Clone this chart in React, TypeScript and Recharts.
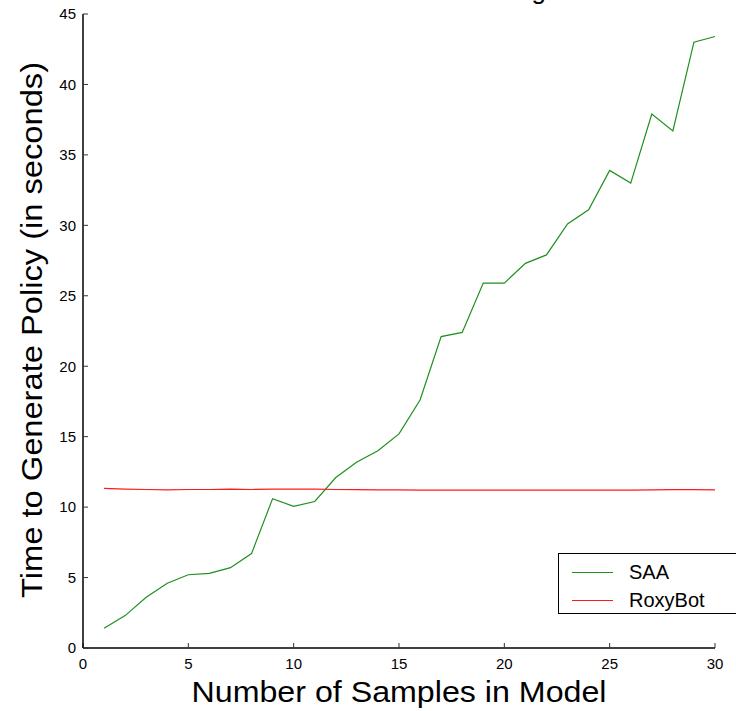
import React from "react";
import { LineChart, Line, XAxis, YAxis, Legend } from "recharts";

const samples = [
  1, 2, 3, 4, 5, 6, 7, 8, 9, 10, 11, 12, 13, 14, 15, 16, 17, 18, 19, 20, 21,
  22, 23, 24, 25, 26, 27, 28, 29, 30,
];
const saaTimes = [
  1.4, 2.3, 3.6, 4.6, 5.2, 5.3, 5.7, 6.7, 10.6, 10.05, 10.4, 12.1, 13.2, 14.0,
  15.2, 17.6, 22.1, 22.4, 25.9, 25.9, 27.3, 27.9, 30.1, 31.1, 33.9, 33.0, 37.9,
  36.7, 43.0, 43.4,
];
const roxyTimes = [
  11.33, 11.28, 11.25, 11.22, 11.25, 11.25, 11.27, 11.25, 11.28, 11.28, 11.27,
  11.25, 11.24, 11.22, 11.22, 11.21, 11.2, 11.2, 11.2, 11.2, 11.2, 11.2, 11.2,
  11.2, 11.2, 11.21, 11.22, 11.24, 11.24, 11.22,
];
const xTicks = [0, 5, 10, 15, 20, 25, 30];
const yTicks = [0, 5, 10, 15, 20, 25, 30, 35, 40, 45];

const data = samples.map((n, i) => ({ n, saa: saaTimes[i], roxy: roxyTimes[i] }));

const FONT = "'Liberation Sans', Arial, sans-serif";
const SAA_COLOR = "#1f8f1f";
const ROXY_COLOR = "#ff1a1a";

// legend drawn as plain html box, the right edge runs off the page like the original
function LegendBox() {
  const row = (color: string, name: string) => (
    <div style={{ display: "flex", alignItems: "center", height: 28 }}>
      <div style={{ width: 41, height: 1, background: color, marginLeft: 13, marginRight: 16 }} />
      <span style={{ fontSize: 20, lineHeight: "20px" }}>{name}</span>
    </div>
  );
  return (
    <div
      style={{
        border: "1px solid #000",
        background: "#fff",
        width: 220,
        height: 61,
        boxSizing: "border-box",
        paddingTop: 4,
        fontFamily: FONT,
        color: "#000",
      }}
    >
      {row(SAA_COLOR, "SAA")}
      {row(ROXY_COLOR, "RoxyBot")}
    </div>
  );
}

export default function App() {
  return (
    <div style={{ position: "absolute", left: 0, top: 0, width: 736, height: 711, overflow: "hidden", background: "#fff" }}>
      <LineChart
        width={736}
        height={711}
        data={data}
        margin={{ top: 14, right: 21, bottom: 33, left: 43 }}
        style={{ fontFamily: FONT }}
      >
        <XAxis
          dataKey="n"
          type="number"
          domain={[0, 30]}
          ticks={xTicks}
          height={30}
          tickSize={-5}
          tickMargin={15}
          axisLine={{ stroke: "#000", strokeWidth: 1.5 }}
          tickLine={{ stroke: "#333" }}
          tick={{ fill: "#000", fontSize: 15 }}
        />
        <XAxis
          xAxisId="top"
          dataKey="n"
          type="number"
          orientation="top"
          domain={[0, 30]}
          ticks={xTicks}
          height={0}
          tickSize={-5}
          tick={false}
          allowDataOverflow
          axisLine={{ stroke: "#000", strokeWidth: 1.5 }}
          tickLine={{ stroke: "#333" }}
        />
        <YAxis
          type="number"
          domain={[0, 45]}
          ticks={yTicks}
          width={40}
          tickSize={-5}
          tickMargin={12}
          allowDataOverflow
          axisLine={{ stroke: "#000", strokeWidth: 1.5 }}
          tickLine={{ stroke: "#333" }}
          tick={{ fill: "#000", fontSize: 15 }}
        />
        <YAxis
          yAxisId="right"
          type="number"
          orientation="right"
          domain={[0, 45]}
          ticks={yTicks}
          width={0}
          tickSize={-5}
          tick={false}
          allowDataOverflow
          axisLine={{ stroke: "#000", strokeWidth: 1.5 }}
          tickLine={{ stroke: "#333" }}
        />
        <Legend
          layout="vertical"
          align="center"
          verticalAlign="middle"
          wrapperStyle={{ position: "absolute", left: 558, top: 553, width: 220, height: 61 }}
          content={() => <LegendBox />}
        />
        <Line
          type="linear"
          dataKey="saa"
          name="SAA"
          stroke={SAA_COLOR}
          strokeWidth={1.2}
          dot={false}
          isAnimationActive={false}
        />
        <Line
          type="linear"
          dataKey="roxy"
          name="RoxyBot"
          stroke={ROXY_COLOR}
          strokeWidth={1.2}
          dot={false}
          isAnimationActive={false}
        />
        {/* title sits above the page top, only the g's tail shows */}
        <text x={546} y={-1} textAnchor="end" fontSize={26} fill="#000" fontFamily={FONT}>
          Effect of Model Size on Timing
        </text>
        <text
          x={399}
          y={702}
          textAnchor="middle"
          fontSize={29}
          fill="#000"
          fontFamily={FONT}
          textLength={415}
          lengthAdjust="spacingAndGlyphs"
        >
          Number of Samples in Model
        </text>
        <text
          x={0}
          y={0}
          transform="translate(42 330) rotate(-90)"
          textAnchor="middle"
          fontSize={30}
          fill="#000"
          fontFamily={FONT}
          textLength={536}
          lengthAdjust="spacingAndGlyphs"
        >
          Time to Generate Policy (in seconds)
        </text>
      </LineChart>
    </div>
  );
}
